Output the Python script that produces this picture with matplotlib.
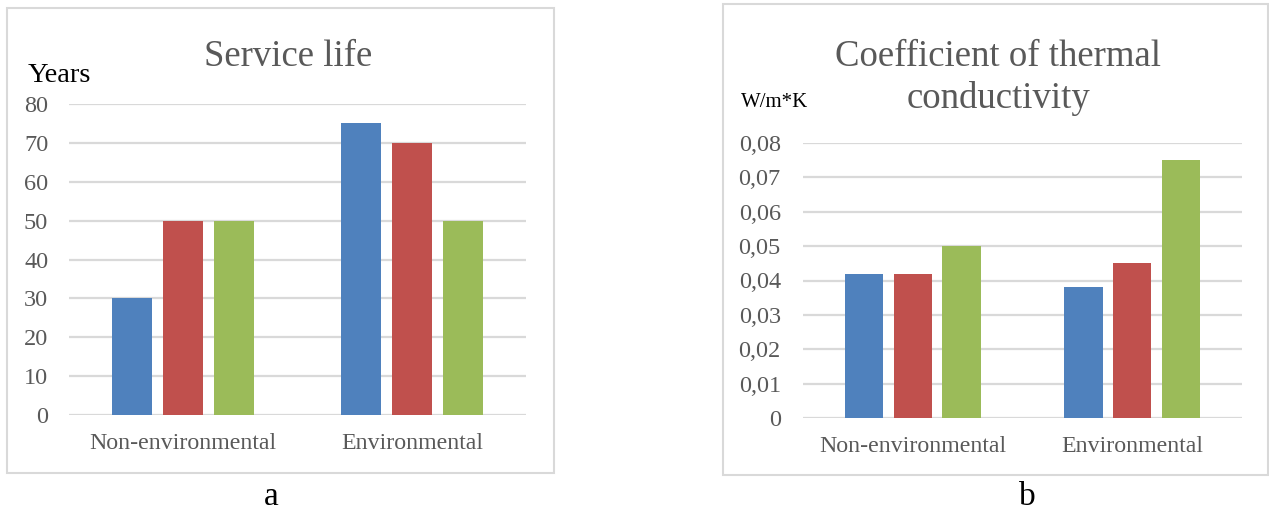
import matplotlib.pyplot as plt
from matplotlib.patches import Rectangle
import numpy as np

plt.rcParams['font.family'] = ['Liberation Serif', 'DejaVu Serif']

categories = ['Non-environmental', 'Environmental']
colors = ['#4F81BD', '#C0504D', '#9BBB59']

# a: service life, years
life = [[30, 75], [50, 70], [50, 50]]
life_ticks = [0, 10, 20, 30, 40, 50, 60, 70, 80]

# b: thermal conductivity, W/m*K
cond = [[0.042, 0.038], [0.042, 0.045], [0.05, 0.075]]
cond_ticks = [0, 0.01, 0.02, 0.03, 0.04, 0.05, 0.06, 0.07, 0.08]

W, H = 1269, 513
fig = plt.figure(figsize=(W / 100, H / 100), dpi=100)
gray = '#595959'
grid = '#D9D9D9'


def px_axes(x0, y0, x1, y1):
    # pixel box (top-left origin) -> figure fraction axes
    return fig.add_axes([x0 / W, 1 - y1 / H, (x1 - x0) / W, (y1 - y0) / H])


def frame(x0, y0, x1, y1):
    fig.patches.append(Rectangle((x0 / W, 1 - y1 / H), (x1 - x0) / W, (y1 - y0) / H,
                                 transform=fig.transFigure, fill=False,
                                 edgecolor=grid, linewidth=1.5))


def bars(ax, data, ticks, labels, pad):
    x = np.arange(len(categories))
    for i, vals in enumerate(data):
        ax.bar(x + (i - 1) * 0.223, vals, width=0.175, color=colors[i], zorder=3)
    ax.set_xlim(-0.5, 1.5)
    ax.set_ylim(ticks[0], ticks[-1])
    ax.set_yticks(ticks)
    ax.set_yticklabels(labels)
    ax.set_xticks(x)
    ax.set_xticklabels(categories)
    for s in ax.spines.values():
        s.set_visible(False)
    ax.yaxis.grid(True, color=grid, linewidth=1.6, zorder=0)
    ax.tick_params(axis='y', length=0, pad=pad, labelsize=17.5, labelcolor=gray)
    ax.tick_params(axis='x', length=0, pad=13, labelsize=17.2, labelcolor=gray)
    ax.set_axisbelow(True)
    ax.patch.set_alpha(0)


frame(7, 8, 554, 473)
frame(723, 4, 1268, 475)

ax1 = px_axes(69, 104, 526, 415)
bars(ax1, life, life_ticks, [str(t) for t in life_ticks], 15)

ax2 = px_axes(803, 143, 1242, 418)
bars(ax2, cond, cond_ticks, ['0' if t == 0 else f'{t:.2f}'.replace('.', ',') for t in cond_ticks], 16)

fig.text(288 / W, 1 - 66 / H, 'Service life', ha='center', va='baseline', fontsize=26.5, color=gray)
fig.text(28 / W, 1 - 82 / H, 'Years', ha='left', va='baseline', fontsize=20.5, color='black')

fig.text(998 / W, 1 - 66 / H, 'Coefficient of thermal', ha='center', va='baseline', fontsize=26.5, color=gray)
fig.text(998 / W, 1 - 108 / H, 'conductivity', ha='center', va='baseline', fontsize=26.5, color=gray)
fig.text(741 / W, 1 - 107 / H, 'W/m*K', ha='left', va='baseline', fontsize=15, color='black')

fig.text(271 / W, 1 - 505 / H, 'a', ha='center', va='baseline', fontsize=24, color='black')
fig.text(1027 / W, 1 - 505 / H, 'b', ha='center', va='baseline', fontsize=24, color='black')

fig.savefig('out.png', dpi=100, facecolor='white')
